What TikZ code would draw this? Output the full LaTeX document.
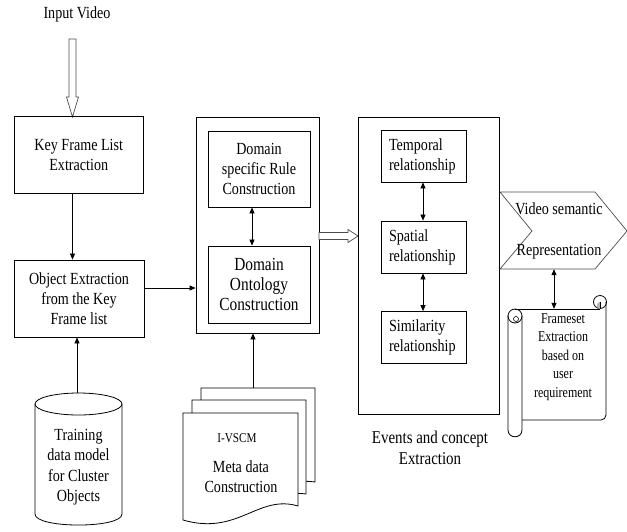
\documentclass[tikz,border=0pt]{standalone}
\usepackage{fontspec}
\setmainfont[FakeStretch=0.83]{Liberation Serif}
\newfontfamily\scrollfont[FakeStretch=0.80]{Liberation Serif}
\usetikzlibrary{arrows.meta,calc}
\begin{document}
\begin{tikzpicture}[x=1pt,y=-1pt,
  font=\fontsize{17}{20}\selectfont,
  box/.style={draw, line width=0.8pt, align=center, inner sep=0pt},
  lbox/.style={draw, line width=0.8pt, align=left, inner xsep=8pt, text width=69pt, minimum height=52pt},
  arr/.style={-{Triangle[length=6pt,width=5pt]}, line width=0.7pt},
  darr/.style={{Triangle[length=6pt,width=5pt]}-{Triangle[length=6pt,width=5pt]}, line width=0.7pt},
  hollow/.style={draw=black!70, line width=0.7pt, fill=white},
  plain/.style={draw=none, align=center, inner sep=0pt}]
\useasboundingbox (0,0) rectangle (627,531);

% input
\node[plain] (inp) at (77,14) {Input Video};
\coordinate (hv) at (72.5,117);
\draw[hollow] ($(hv)+(-3.5,-78)$) -- ($(hv)+(-3.5,-20)$) -- ($(hv)+(-6,-20)$) -- (hv)
  -- ($(hv)+(6,-20)$) -- ($(hv)+(3.5,-20)$) -- ($(hv)+(3.5,-78)$) -- cycle;

% left column
\node[box, minimum width=129.5pt, minimum height=76.5pt] (kf) at (78.75,155) {Key Frame List\\Extraction};
\node[box, minimum width=130pt, minimum height=77pt] (obj) at (79,298.5) {Object Extraction\\from the Key\\Frame list};
\draw[arr] (kf.south -| hv) -- (obj.north -| hv);

% middle column
\node[box, minimum width=123pt, minimum height=216pt] (mid) at (257.5,225) {};
\node[box, minimum width=102pt, minimum height=76pt] (rule) at (259,169) {Domain\\specific Rule\\Construction};
\node[box, minimum width=102pt, minimum height=77pt, font=\fontsize{18.5}{20}\selectfont] (onto) at (259,284.5) {Domain\\Ontology\\Construction};
\coordinate (xm) at (252,0);
\draw[darr] (rule.south -| xm) -- (onto.north -| xm);
\draw[arr] ([yshift=10.5pt]obj.east) coordinate (oe) -- (oe -| mid.west);

% hollow arrow middle -> right
\coordinate (ht) at (358,236);
\draw[hollow] ($(ht)+(-39,-3.5)$) -- ($(ht)+(-10,-3.5)$) -- ($(ht)+(-10,-6.5)$) -- (ht)
  -- ($(ht)+(-10,6.5)$) -- ($(ht)+(-10,3.5)$) -- ($(ht)+(-39,3.5)$) -- cycle;

% right column
\node[box, minimum width=141pt, minimum height=297pt] (rgt) at (428.5,265.5) {};
\node[lbox] (temp) at (423.5,156) {Temporal\\relationship};
\node[lbox] (spat) at (423.5,247) {Spatial\\relationship};
\node[lbox] (simi) at (423.5,337.5) {Similarity\\relationship};
\coordinate (xr) at (423,0);
\draw[darr] (temp.south -| xr) -- (spat.north -| xr);
\draw[darr] (spat.south -| xr) -- (simi.north -| xr);
\node[plain, font=\fontsize{18}{21}\selectfont] (ev) at (430,447.5) {Events and concept\\Extraction};

% chevron
\draw[draw=black!70, line width=0.7pt] (500,192) -- (595,192) -- (627,231) -- (595,269) -- (500,269) -- (532,231) -- cycle;
\node[plain, minimum width=127pt, minimum height=77pt] (vs) at (559,230.5) {Video semantic\\[21pt]Representation};

% scroll
\draw[line width=0.8pt, rounded corners=5pt] (522,420) -- (606,420) -- (606,302);
\draw[line width=0.8pt] (515,309) -- (600,309);
\draw[line width=0.8pt] (600,302) circle[radius=6.5pt];
\fill[black!30] (600,302) .. controls (596,302) and (596,309) .. (600,309) -- cycle;
\draw[line width=0.6pt] (600,302) -- (600,309);
\draw[line width=0.8pt] (508,316) -- (508,430) .. controls (508,439) and (522,439) .. (522,430) -- (522,316);
\draw[line width=0.8pt] (515,316) circle[radius=7pt];
\draw[line width=0.6pt] (516,319) circle[radius=2.5pt];
\node[plain, minimum width=84pt, minimum height=111pt] (fs) at (563,364.5) {};
\node[plain, font=\scrollfont\fontsize{15}{18.5}\selectfont] (fstext) at (563,357) {Frameset\\Extraction\\based on\\user\\requirement};
\coordinate (xs) at (554,0);
\draw[darr] (vs.south -| xs) -- (fs.north -| xs);

% cylinder
\draw[line width=0.8pt] (35,404) -- (35,514) .. controls (35,528.7) and (122,528.7) .. (122,514) -- (122,404);
\draw[line width=0.8pt] (78.5,404) ellipse[x radius=43.5pt, y radius=11pt];
\node[plain, minimum width=87pt, minimum height=132pt] (cyl) at (78.5,459) {};
\node[plain, font=\fontsize{17}{20.5}\selectfont] (cyltext) at (78.5,467) {Training\\data model\\for Cluster\\Objects};
\coordinate (xc) at (77,0);
\draw[arr] (cyl.north -| xc) -- (obj.south -| xc);

% document stack
\draw[line width=0.8pt, fill=white] (201,388) -- (315,388) -- (315,482) .. controls (290,478) and (270,492) .. (240,498) -- (201,498) -- cycle;
\draw[line width=0.8pt, fill=white] (192,400) -- (306,400) -- (306,494) .. controls (280,490) and (260,504) .. (230,510) -- (192,510) -- cycle;
\draw[line width=0.8pt, fill=white] (183,413) -- (298,413) -- (298,506) .. controls (258,494) and (238,536) .. (183,520) -- cycle;
\node[plain, font=\fontsize{13.5}{15}\selectfont] (ivscm) at (237,438) {I-VSCM};
\node[plain] (meta) at (241,477) {Meta data\\Construction};
\coordinate (dtop) at (253,388);
\draw[arr] (dtop) -- (dtop |- mid.south);
\end{tikzpicture}
\end{document}
